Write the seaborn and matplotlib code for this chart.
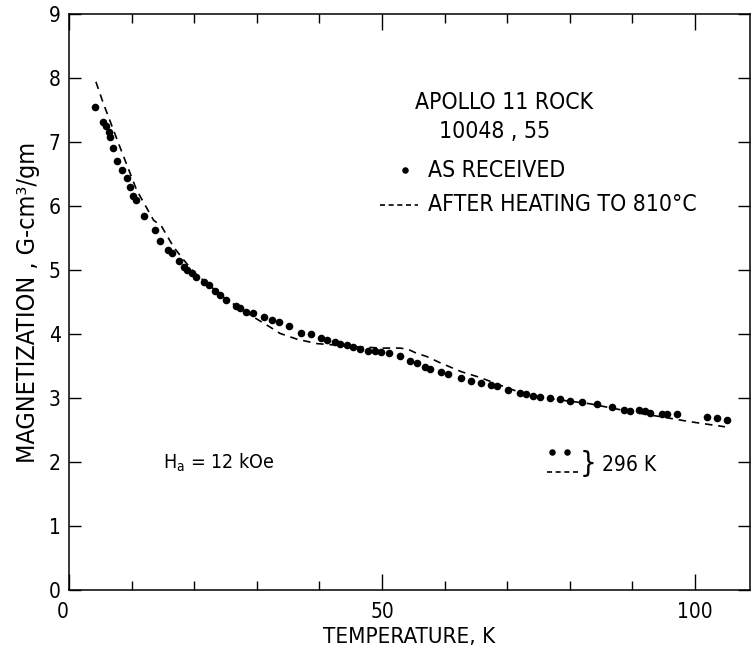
import matplotlib
matplotlib.use("Agg")
import matplotlib.pyplot as plt
import seaborn as sns
import pandas as pd
from matplotlib.ticker import MultipleLocator, FixedLocator

# ---- data ----
received_T = [4.2, 5.5, 5.9, 6.4, 6.5, 7.1, 7.6, 8.5, 9.2, 9.7, 10.2, 10.7, 12.0, 13.7,
              14.6, 15.8, 16.4, 17.6, 18.3, 18.8, 19.6, 20.3, 21.5, 22.3, 23.3, 24.1,
              25.1, 26.7, 27.3, 28.3, 29.4, 31.2, 32.4, 33.6, 35.2, 37.1, 38.6, 40.2,
              41.2, 42.5, 43.3, 44.4, 45.4, 46.5, 47.8, 48.9, 49.8, 51.2, 52.9, 54.5,
              55.6, 56.9, 57.7, 59.4, 60.6, 62.6, 64.2, 65.8, 67.5, 68.4, 70.2, 72.0,
              73.0, 74.2, 75.2, 76.8, 78.4, 80.0, 81.9, 84.3, 86.7, 88.6, 89.7, 91.1,
              92.0, 92.8, 94.8, 95.6, 97.1, 102.0, 103.5, 105.1]
received_M = [7.55, 7.31, 7.25, 7.15, 7.08, 6.91, 6.70, 6.56, 6.43, 6.30, 6.16, 6.09, 5.84, 5.63,
              5.45, 5.32, 5.26, 5.14, 5.05, 5.00, 4.95, 4.89, 4.82, 4.76, 4.67, 4.61,
              4.53, 4.44, 4.40, 4.35, 4.33, 4.26, 4.22, 4.18, 4.13, 4.01, 4.00, 3.93,
              3.90, 3.87, 3.85, 3.83, 3.79, 3.77, 3.74, 3.74, 3.72, 3.70, 3.66, 3.58,
              3.54, 3.48, 3.45, 3.41, 3.38, 3.31, 3.27, 3.23, 3.20, 3.18, 3.13, 3.08,
              3.06, 3.03, 3.01, 3.00, 2.98, 2.95, 2.93, 2.91, 2.86, 2.82, 2.79, 2.81,
              2.79, 2.77, 2.75, 2.75, 2.75, 2.71, 2.69, 2.66]

heated_T = [4.3, 5.5, 8.1, 10.8, 13.5, 14.8, 16.7, 18.3, 20.0, 25.0, 29.4, 32.1, 33.7,
            36.4, 39.6, 42.2, 46.0, 50.0, 52.9, 54.2, 55.5, 57.1, 59.3, 62.7, 65.7,
            69.4, 72.0, 76.0, 80.0, 83.2, 90.0, 95.0, 99.2, 101.3, 104.8]
heated_M = [7.94, 7.60, 6.93, 6.25, 5.78, 5.68, 5.36, 5.16, 4.96, 4.55, 4.27, 4.11, 4.01,
            3.92, 3.85, 3.83, 3.80, 3.78, 3.78, 3.76, 3.70, 3.65, 3.55, 3.41, 3.32,
            3.18, 3.09, 3.00, 2.95, 2.91, 2.78, 2.70, 2.63, 2.60, 2.55]

# magnetization at 296 K (drawn as a key at the lower right)
room_M_received = 2.16
room_M_heated = 1.84

x_major = [0, 50, 100]
x_major_labels = ["0", "50", "100"]
y_ticks = list(range(0, 10))

sns.set_style("ticks")
plt.rcParams["font.family"] = ["DejaVu Sans"]
plt.rcParams["font.stretch"] = "condensed"
for key in ["text.color", "axes.labelcolor", "xtick.color", "ytick.color", "axes.edgecolor"]:
    plt.rcParams[key] = "black"

fig = plt.figure(figsize=(7.51, 6.49), dpi=100)
ax = fig.add_axes([69 / 751, 59 / 649, 681 / 751, 576 / 649])

df_r = pd.DataFrame({"T": received_T, "M": received_M})
df_h = pd.DataFrame({"T": heated_T, "M": heated_M})

sns.lineplot(data=df_h, x="T", y="M", ax=ax, color="black", linewidth=1.2,
             linestyle=(0, (4.5, 3.5)), sort=True, estimator=None)
sns.scatterplot(data=df_r, x="T", y="M", ax=ax, color="black", s=30,
                edgecolor="black", linewidth=0, zorder=3)

ax.set_xlim(0, 108.8)
ax.set_ylim(0, 9)

# ticks
ax.xaxis.set_major_locator(FixedLocator(x_major))
ax.set_xticklabels(x_major_labels)
ax.xaxis.set_minor_locator(MultipleLocator(10))
ax.yaxis.set_major_locator(FixedLocator(y_ticks))
ax.tick_params(axis="x", which="major", direction="in", length=11.5, width=1.0,
               top=True, bottom=True, labelsize=15, pad=9)
ax.tick_params(axis="x", which="minor", direction="in", length=6.5, width=1.0,
               top=True, bottom=True)
ax.tick_params(axis="y", which="major", direction="in", length=8.5, width=1.0,
               left=True, right=True, labelsize=15, pad=6)
for lab in ax.get_xticklabels():
    if lab.get_text() == "0":
        lab.set_horizontalalignment("right")
for sp in ax.spines.values():
    sp.set_visible(True)
    sp.set_linewidth(1.1)
    sp.set_color("black")

ax.set_xlabel("TEMPERATURE, K", fontsize=16, labelpad=3)
ax.set_ylabel("MAGNETIZATION , G-cm³/gm", fontsize=18, labelpad=6)

# annotations
ax.text(69.5, 7.62, "APOLLO 11 ROCK", fontsize=16.5, ha="center", va="center")
ax.text(68.0, 7.16, "10048 , 55", fontsize=16.5, ha="center", va="center")
ax.scatter([53.7], [6.56], s=22, color="black", linewidth=0)
ax.text(57.3, 6.56, "AS RECEIVED", fontsize=16.5, ha="left", va="center")
ax.plot([49.7, 55.8], [6.02, 6.02], color="black", linewidth=1.2,
        linestyle=(0, (3.0, 2.2)))
ax.text(57.3, 6.02, "AFTER HEATING TO 810°C", fontsize=16.5, ha="left", va="center")

ax.text(15.0, 1.98, "H$_\\mathregular{a}$ = 12 kOe", fontsize=14, ha="left", va="center")

ax.scatter([77.2, 79.6], [room_M_received, room_M_received], s=22, color="black",
           linewidth=0)
ax.plot([76.4, 81.5], [room_M_heated, room_M_heated], color="black", linewidth=1.2,
        linestyle=(0, (3.0, 2.2)))
ax.text(82.9, 1.97, "}", fontsize=21, ha="center", va="center")
ax.text(85.1, 1.95, "296 K", fontsize=15, ha="left", va="center")

fig.savefig("out.png", dpi=100)
